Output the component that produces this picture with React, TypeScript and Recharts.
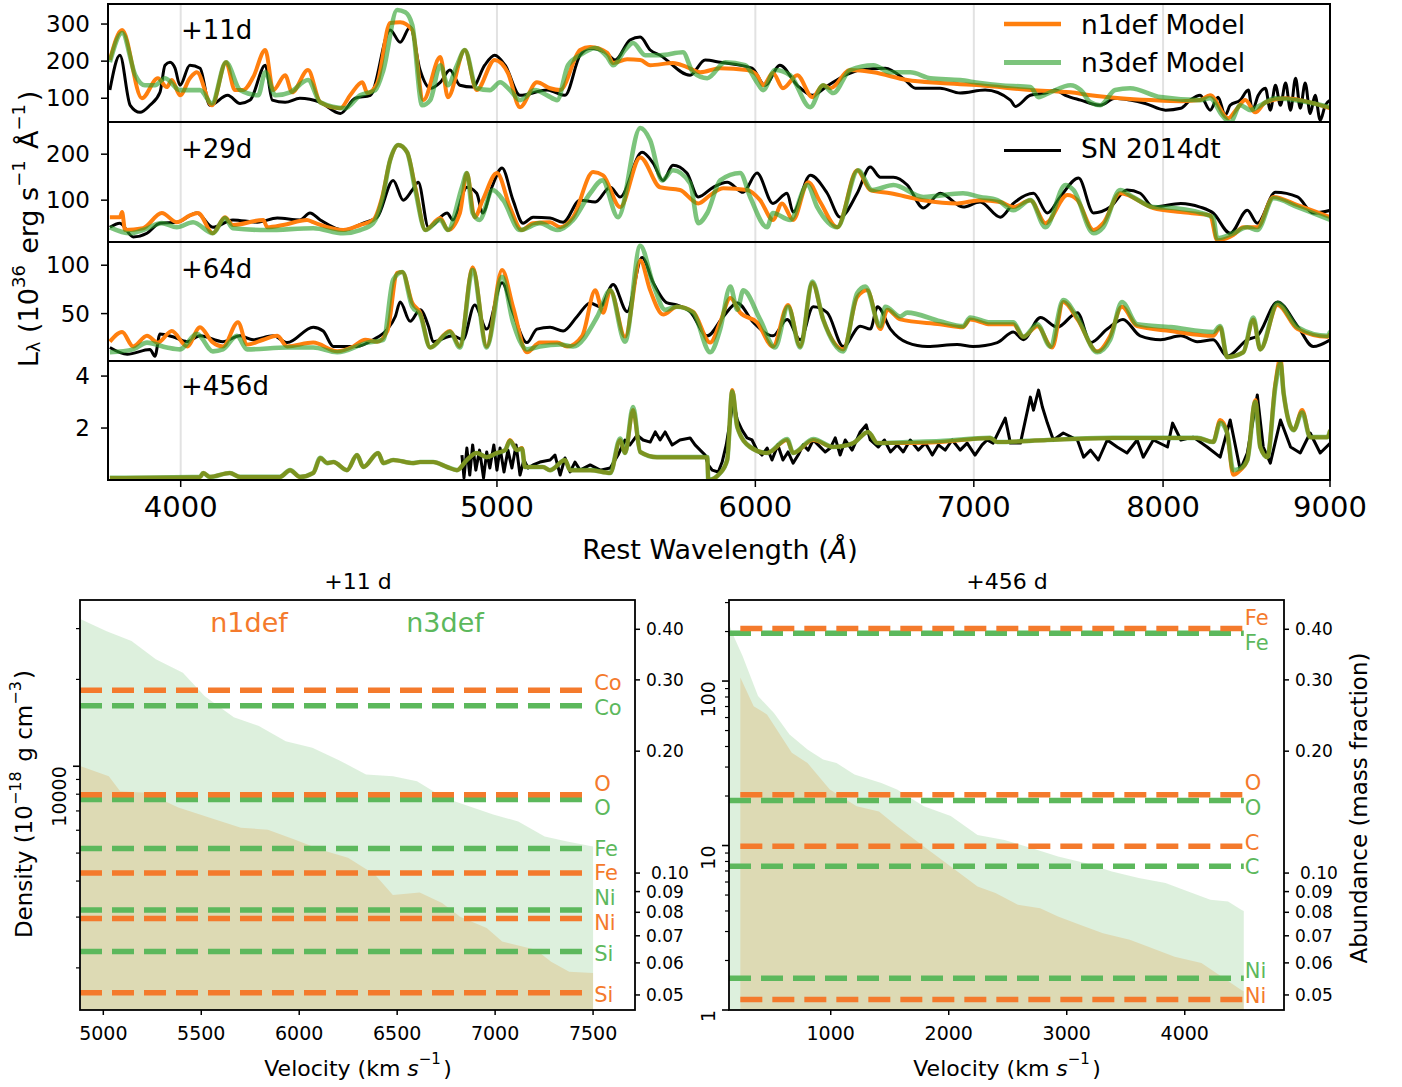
import React from 'react';
import { LineChart, Line, XAxis, YAxis, CartesianGrid, ComposedChart, Area } from 'recharts';

type Pair = [number, number];

// ---------------- top: spectra ----------------
const WAVE_TICKS = [4000, 5000, 6000, 7000, 8000, 9000];
const WAVE_GRID = [4000, 5000, 6000, 7000, 8000];
const WAVE_DOMAIN: [number, number] = [3800, 9000];

const P1_OBS: Pair[] = [[3805,122],[3832,216],[3860,81],[3887,62],[3914,81],[3942,116],[3956,189],[3970,197],[3984,181],[3998,135],[4026,189],[4055,181],[4083,81],[4135,108],[4171,86],[4201,95],[4246,189],[4267,95],[4306,89],[4351,100],[4414,89],[4477,59],[4524,100],[4573,108],[4637,284],[4670,251],[4703,292],[4736,176],[4770,127],[4804,143],[4837,176],[4871,135],[4915,130],[4957,189],[4992,216],[5029,189],[5082,108],[5180,122],[5209,116],[5246,108],[5302,216],[5340,235],[5397,224],[5435,203],[5492,257],[5532,265],[5571,230],[5610,216],[5730,162],[5791,203],[5853,197],[5986,181],[6041,135],[6105,189],[6180,135],[6246,108],[6317,135],[6393,162],[6461,176],[6576,181],[6669,149],[6717,127],[6836,127],[6933,114],[7056,122],[7183,95],[7208,78],[7285,108],[7363,114],[7414,122],[7467,108],[7548,95],[7653,81],[7734,100],[7816,95],[7900,86],[8014,68],[8101,73],[8155,95],[8212,108],[8270,68],[8317,103],[8358,54],[8388,81],[8448,95],[8496,122],[8520,68],[8556,108],[8599,127],[8629,68],[8660,135],[8691,81],[8722,141],[8753,68],[8784,154],[8813,73],[8844,141],[8875,59],[8906,108],[8938,41],[8970,81],[9002,95]];
const P1_N1: Pair[] = [[3805,203],[3838,284],[3892,100],[3936,154],[3961,130],[3975,149],[3998,108],[4026,154],[4046,170],[4089,81],[4130,197],[4156,122],[4180,122],[4210,157],[4246,230],[4270,122],[4306,162],[4327,116],[4376,176],[4414,89],[4477,73],[4508,108],[4547,143],[4563,114],[4595,141],[4637,303],[4670,305],[4710,284],[4747,95],[4804,211],[4830,103],[4888,230],[4929,122],[4992,203],[5039,168],[5082,76],[5143,143],[5191,127],[5228,122],[5302,230],[5340,238],[5405,222],[5427,195],[5481,205],[5532,203],[5571,189],[5661,195],[5717,184],[5771,170],[5853,181],[5965,176],[6007,162],[6033,135],[6075,168],[6118,127],[6180,162],[6246,103],[6294,135],[6326,127],[6415,176],[6521,170],[6679,149],[6836,141],[7031,135],[7285,122],[7494,116],[7601,108],[7761,100],[7928,95],[8101,92],[8212,95],[8270,108],[8376,46],[8430,73],[8478,95],[8538,62],[8599,89],[8722,100],[8813,95],[9002,73]];
const P1_N3: Pair[] = [[3805,197],[3838,276],[3874,162],[3900,135],[3928,135],[3956,154],[3998,122],[4055,122],[4089,86],[4130,197],[4171,122],[4225,108],[4246,170],[4276,108],[4321,116],[4376,149],[4414,89],[4492,73],[4540,108],[4589,122],[4615,176],[4660,338],[4687,332],[4710,297],[4743,81],[4770,95],[4804,189],[4830,135],[4861,189],[4888,230],[4929,127],[4975,122],[5011,143],[5046,122],[5082,95],[5136,122],[5180,108],[5217,95],[5257,189],[5302,216],[5359,235],[5405,211],[5427,189],[5473,230],[5504,249],[5551,216],[5610,216],[5701,224],[5742,170],[5800,154],[5874,197],[5957,189],[6007,143],[6033,122],[6084,176],[6149,162],[6237,76],[6294,135],[6339,114],[6415,176],[6521,189],[6600,170],[6693,170],[6789,154],[6933,149],[7031,141],[7132,135],[7285,130],[7327,103],[7388,116],[7494,135],[7548,122],[7601,89],[7653,81],[7734,122],[7816,127],[7986,103],[8212,95],[8270,100],[8340,54],[8388,35],[8448,81],[8508,68],[8568,81],[8660,100],[8784,95],[9002,76]];

const P2_OBS: Pair[] = [[3805,41],[3832,50],[3868,20],[3906,28],[3942,50],[3989,52],[4046,72],[4092,41],[4150,57],[4222,52],[4282,61],[4351,57],[4382,72],[4414,57],[4486,35],[4550,50],[4595,63],[4647,143],[4680,100],[4710,122],[4730,139],[4764,41],[4827,72],[4847,57],[4895,128],[4929,115],[4950,72],[4982,128],[5018,170],[5057,100],[5093,50],[5129,63],[5191,61],[5239,52],[5302,100],[5359,96],[5416,128],[5454,107],[5539,204],[5583,180],[5622,143],[5661,176],[5717,159],[5763,107],[5824,128],[5882,139],[5949,117],[6007,159],[6075,93],[6136,115],[6162,74],[6237,154],[6312,115],[6370,63],[6447,115],[6507,172],[6553,150],[6614,150],[6679,133],[6755,83],[6836,115],[6947,85],[7031,96],[7132,63],[7198,93],[7301,115],[7373,72],[7440,107],[7537,148],[7617,72],[7707,85],[7799,122],[7872,115],[7945,85],[8101,93],[8212,85],[8288,72],[8388,28],[8490,78],[8550,50],[8660,117],[8796,107],[8894,72],[9002,78]];
const P2_N1: Pair[] = [[3805,63],[3832,63],[3838,74],[3846,35],[3895,39],[3947,72],[3989,52],[4026,67],[4049,72],[4092,28],[4127,63],[4150,46],[4240,57],[4252,41],[4300,46],[4373,57],[4392,52],[4486,35],[4540,46],[4582,57],[4611,107],[4637,187],[4664,220],[4693,204],[4720,128],[4754,35],[4804,61],[4830,35],[4871,72],[4895,159],[4922,63],[4950,100],[5000,159],[5046,85],[5089,35],[5129,50],[5191,52],[5228,41],[5276,63],[5351,161],[5389,154],[5454,85],[5532,193],[5610,128],[5689,122],[5763,93],[5812,111],[5866,126],[5965,122],[6020,100],[6075,57],[6114,93],[6162,57],[6228,139],[6281,96],[6357,41],[6447,165],[6507,122],[6600,115],[6755,100],[6918,93],[7031,100],[7132,96],[7198,85],[7285,100],[7363,50],[7478,111],[7531,100],[7617,35],[7669,50],[7761,115],[7945,83],[8101,74],[8270,67],[8311,13],[8406,24],[8466,41],[8550,41],[8648,107],[8796,89],[9002,63]];
const P2_N3: Pair[] = [[3805,41],[3860,28],[3895,35],[3947,50],[3989,41],[4035,52],[4092,28],[4127,61],[4150,39],[4252,35],[4392,39],[4486,28],[4540,35],[4582,50],[4611,100],[4637,187],[4664,220],[4693,204],[4720,122],[4754,35],[4804,57],[4830,35],[4878,128],[4895,159],[4915,72],[4939,57],[4985,122],[5022,100],[5082,35],[5154,50],[5217,35],[5276,57],[5340,115],[5386,143],[5446,63],[5532,257],[5571,230],[5618,143],[5661,165],[5730,137],[5763,50],[5800,72],[5853,143],[5936,159],[5978,107],[6050,41],[6075,72],[6149,57],[6224,133],[6268,85],[6357,41],[6451,165],[6516,122],[6614,133],[6755,107],[6947,115],[7031,107],[7117,100],[7198,78],[7285,100],[7363,41],[7467,133],[7510,122],[7617,28],[7669,41],[7761,122],[7832,107],[7945,85],[8060,83],[8288,63],[8311,17],[8406,28],[8490,41],[8550,35],[8648,104],[8796,85],[9002,57]];

const P3_OBS: Pair[] = [[3805,15],[3852,8],[3914,13],[3928,6],[3942,29],[3978,26],[4018,21],[4055,27],[4121,21],[4171,27],[4210,23],[4270,27],[4312,20],[4392,36],[4423,32],[4455,16],[4530,16],[4582,23],[4628,34],[4654,47],[4670,62],[4703,42],[4736,54],[4764,37],[4780,21],[4847,27],[4881,23],[4922,59],[4964,34],[5018,82],[5057,51],[5107,20],[5143,34],[5191,36],[5239,32],[5291,47],[5340,61],[5378,57],[5427,80],[5481,52],[5539,108],[5583,82],[5638,61],[5677,59],[5730,52],[5800,27],[5866,47],[5924,61],[5991,41],[6075,27],[6136,44],[6193,23],[6250,57],[6312,51],[6384,16],[6461,37],[6507,34],[6540,57],[6600,34],[6679,20],[6774,16],[6918,18],[6996,16],[7117,20],[7198,31],[7249,23],[7337,46],[7425,36],[7531,51],[7601,20],[7691,34],[7777,44],[7872,27],[7986,23],[8101,27],[8195,21],[8288,23],[8370,6],[8490,23],[8550,27],[8673,62],[8796,37],[8894,16],[9002,23]];
const P3_N1: Pair[] = [[3805,21],[3838,31],[3868,16],[3906,27],[3936,20],[3975,32],[4018,16],[4055,36],[4089,21],[4121,16],[4165,41],[4192,18],[4240,23],[4282,27],[4312,16],[4392,20],[4467,11],[4518,16],[4556,23],[4595,21],[4628,32],[4660,92],[4677,93],[4710,61],[4736,51],[4770,15],[4837,32],[4871,16],[4915,98],[4964,16],[5018,95],[5057,57],[5107,10],[5154,20],[5217,20],[5254,16],[5310,27],[5359,74],[5389,51],[5416,74],[5473,26],[5532,105],[5571,74],[5622,49],[5677,57],[5742,52],[5812,20],[5853,41],[5895,66],[5936,51],[6007,41],[6075,16],[6140,59],[6193,16],[6246,82],[6294,44],[6384,13],[6447,67],[6493,74],[6553,34],[6586,54],[6646,44],[6836,39],[6947,36],[6982,44],[7081,39],[7198,39],[7249,26],[7321,37],[7398,15],[7456,62],[7531,44],[7637,11],[7707,27],[7771,57],[7855,37],[8043,32],[8288,27],[8329,36],[8370,5],[8466,10],[8526,44],[8568,13],[8673,59],[8796,34],[8983,26],[9002,29]];
const P3_N3: Pair[] = [[3805,10],[3868,13],[3906,20],[3961,15],[3998,13],[4046,29],[4092,11],[4121,13],[4162,27],[4192,13],[4312,15],[4392,15],[4467,10],[4563,20],[4615,23],[4647,85],[4677,93],[4710,57],[4736,49],[4770,15],[4837,31],[4871,15],[4915,95],[4964,15],[5018,88],[5057,41],[5107,13],[5154,16],[5228,18],[5276,16],[5367,47],[5416,74],[5473,21],[5532,120],[5583,80],[5630,54],[5677,57],[5742,51],[5812,10],[5853,34],[5895,78],[5924,54],[5949,74],[6020,44],[6084,15],[6140,57],[6193,15],[6246,83],[6294,44],[6384,11],[6447,71],[6484,78],[6553,37],[6576,57],[6646,47],[6679,51],[6836,42],[6947,37],[6982,46],[7081,41],[7198,41],[7249,26],[7321,39],[7388,16],[7456,64],[7531,46],[7637,10],[7707,23],[7771,62],[7855,39],[8043,36],[8288,31],[8329,37],[8370,5],[8466,10],[8526,46],[8568,13],[8673,61],[8796,36],[8983,27],[9002,32]];

const P4_OBS: Pair[] = [[4878,0.96],[4885,0.08],[4895,1.23],[4905,0.19],[4915,1.35],[4926,0.38],[4939,1.15],[4953,0.08],[4964,1.08],[4975,0.46],[4989,1.35],[5000,0.38],[5011,1.23],[5025,0.31],[5039,1.15],[5053,0.46],[5068,1.35],[5082,0.19],[5096,0.77],[5111,0.46],[5129,0.58],[5154,0.69],[5191,0.77],[5209,0.96],[5228,0.19],[5246,0.85],[5265,0.31],[5283,0.69],[5302,0.38],[5340,0.58],[5378,0.38],[5416,0.46],[5446,0.96],[5473,1.54],[5492,1.35],[5520,1.73],[5543,1.54],[5571,1.46],[5591,1.85],[5610,1.54],[5630,1.85],[5658,1.35],[5689,1.54],[5730,1.62],[5750,1.35],[5771,1.15],[5791,0.96],[5804,0.58],[5820,0.38],[5845,0.31],[5861,0.69],[5878,1.35],[5895,2.31],[5907,3.08],[5924,2.31],[5944,1.92],[5965,1.62],[5986,1.54],[6007,1.15],[6028,0.96],[6050,1.23],[6071,0.77],[6096,1.35],[6118,0.77],[6140,1.08],[6162,0.65],[6184,0.96],[6206,1.35],[6228,1.15],[6250,1.54],[6272,1.35],[6303,1.08],[6326,1.23],[6348,1.62],[6370,0.96],[6393,1.54],[6424,1.15],[6461,1.85],[6488,2.12],[6507,1.54],[6544,1.27],[6572,1.54],[6600,1.08],[6632,1.35],[6660,1.08],[6693,1.54],[6731,1.15],[6765,1.42],[6798,0.96],[6827,1.35],[6860,1.15],[6894,1.54],[6933,1.15],[6967,1.42],[7006,0.96],[7041,1.35],[7066,1.54],[7096,1.42],[7157,2.38],[7183,1.42],[7234,1.42],[7285,3.19],[7301,2.69],[7327,3.46],[7347,2.81],[7373,2.19],[7404,1.54],[7456,1.81],[7531,1.54],[7564,0.88],[7601,1.15],[7643,0.77],[7691,1.54],[7745,1.27],[7799,1.04],[7855,1.54],[7889,0.88],[7945,1.54],[8025,1.27],[8054,2.19],[8101,1.54],[8172,1.65],[8253,1.27],[8329,0.88],[8388,2.31],[8448,0.38],[8490,1.04],[8550,3.27],[8586,1.27],[8629,0.65],[8691,2.31],[8753,1.27],[8813,1.04],[8875,1.81],[8938,1.04],[9002,1.42]];
const P4_N1: Pair[] = [[3805,0.08],[4055,0.12],[4064,0.27],[4083,0.12],[4141,0.27],[4171,0.12],[4290,0.12],[4321,0.38],[4351,0.12],[4392,0.27],[4414,0.85],[4436,0.65],[4455,0.69],[4498,0.38],[4530,0.96],[4550,0.5],[4598,1.04],[4615,0.65],[4647,0.77],[4713,0.65],[4736,0.69],[4780,0.69],[4827,0.5],[4861,0.38],[4895,0.77],[4929,1.04],[4964,0.88],[5000,1.04],[5029,1.15],[5046,1.54],[5071,1.15],[5089,1.23],[5100,0.5],[5165,0.5],[5191,0.38],[5246,0.77],[5265,0.38],[5340,0.38],[5416,0.27],[5454,1.54],[5473,1.04],[5504,2.69],[5532,1.08],[5598,0.88],[5800,0.88],[5804,0],[5853,0.27],[5882,0.77],[5903,3.46],[5924,2.04],[5978,1.27],[6050,1.04],[6136,1.54],[6162,1.04],[6250,1.54],[6339,1.27],[6429,1.42],[6497,1.85],[6540,1.42],[6679,1.42],[6836,1.46],[7081,1.62],[7117,1.46],[7373,1.54],[7723,1.62],[8195,1.62],[8288,1.46],[8329,2.31],[8370,1.81],[8406,0.2],[8448,0.38],[8490,0.77],[8538,3.08],[8568,1.27],[8611,0.88],[8660,3.73],[8691,4.7],[8710,3.35],[8772,1.92],[8825,2.69],[8875,1.65],[8983,1.65],[9002,1.92]];
const P4_N3: Pair[] = [[3805,0.08],[4055,0.12],[4064,0.27],[4083,0.12],[4141,0.27],[4171,0.12],[4290,0.12],[4321,0.38],[4351,0.12],[4392,0.27],[4414,0.85],[4436,0.65],[4455,0.69],[4498,0.38],[4530,0.96],[4550,0.5],[4598,1.04],[4615,0.65],[4647,0.77],[4713,0.65],[4736,0.69],[4780,0.69],[4827,0.5],[4861,0.38],[4895,0.77],[4929,1.04],[4964,0.88],[5000,1.04],[5029,1.15],[5046,1.5],[5071,1.15],[5089,1.2],[5100,0.5],[5165,0.5],[5191,0.38],[5246,0.77],[5265,0.38],[5340,0.38],[5416,0.27],[5454,1.6],[5473,1.04],[5504,2.81],[5532,1.08],[5598,0.88],[5800,0.88],[5804,0],[5853,0.27],[5882,0.77],[5903,3.4],[5924,2.04],[5978,1.27],[6050,1.04],[6136,1.58],[6162,1.04],[6250,1.58],[6339,1.27],[6429,1.42],[6497,1.85],[6540,1.42],[6679,1.46],[6836,1.5],[7081,1.62],[7117,1.46],[7373,1.54],[7723,1.62],[8195,1.62],[8288,1.46],[8329,2.2],[8370,1.81],[8406,0.38],[8448,0.45],[8490,0.77],[8538,3.0],[8568,1.27],[8611,0.88],[8660,3.6],[8691,4.5],[8710,3.35],[8772,1.92],[8825,2.6],[8875,1.65],[8983,1.65],[9002,1.92]];

const EPOCH_LABELS = ['+11d', '+29d', '+64d', '+456d'];
const P_DOMAINS: [number, number][] = [[36, 354], [9, 270], [1, 124], [0, 4.58]];
const P_TICKS = [[100, 200, 300], [100, 200], [50, 100], [2, 4]];
const P_SERIES = [[P1_OBS, P1_N1, P1_N3], [P2_OBS, P2_N1, P2_N3], [P3_OBS, P3_N1, P3_N3], [P4_OBS, P4_N1, P4_N3]];

// ---------------- bottom: density & abundance ----------------
const L_VEL_TICKS = [5000, 5500, 6000, 6500, 7000, 7500];
const L_N1_DENS: Pair[] = [[4885,10000],[5028,9230],[5086,8190],[5222,8100],[5383,7190],[5544,6630],[5702,6120],[5840,6030],[5976,5570],[6111,5140],[6249,4820],[6387,4210],[6478,3580],[6615,3650],[6729,3360],[6821,3010],[6957,2750],[7036,2470],[7208,2310],[7286,2100],[7378,1940],[7500,1920]];
const L_N3_DENS: Pair[] = [[4885,32300],[5017,29400],[5144,27200],[5268,23500],[5406,21100],[5518,17500],[5666,14800],[5794,13800],[5931,12200],[6067,11600],[6203,10500],[6341,9360],[6479,9230],[6601,8870],[6739,7780],[6867,7260],[6990,6800],[7118,6440],[7253,5710],[7368,5490],[7500,5270]];
const L_ELEMENTS_N1 = ['Co', 'O', 'Fe', 'Ni', 'Si'];
const L_ABUND_N1 = [0.283, 0.156, 0.1, 0.0772, 0.0506];
const L_ELEMENTS_N3 = ['Co', 'O', 'Fe', 'Ni', 'Si'];
const L_ABUND_N3 = [0.259, 0.152, 0.115, 0.0811, 0.064];
const L_VRANGE_N1 = [4881, 7480];
const L_VRANGE_N3 = [4881, 7480];
const L_DENS_TICKS = [2000, 3000, 4000, 5000, 6000, 7000, 8000, 9000, 10000, 20000, 30000];
const L_DENS_MAJOR = [10000];

const R_VEL_TICKS = [1000, 2000, 3000, 4000];
const R_N1_DENS: Pair[] = [[234,105],[347,70.3],[460,62.7],[670,36.6],[803,31.8],[992,21.9],[1220,17.3],[1409,16.1],[1562,13.1],[1789,9.88],[2017,7.46],[2244,5.64],[2396,5.14],[2586,4.36],[2775,4.16],[2926,3.7],[3117,3.29],[3307,2.93],[3534,2.67],[3686,2.43],[3914,2.11],[4141,1.93],[4292,1.63],[4482,1.32],[4500,1.3]];
const R_N3_DENS: Pair[] = [[140,220],[177,188],[253,142],[384,81],[519,64],[651,47.3],[803,38.3],[935,33.3],[1049,31.8],[1201,27],[1429,24],[1562,21.9],[1789,17.3],[2017,15.1],[2244,11.6],[2472,10.8],[2699,9.66],[2926,8.59],[3155,7.82],[3382,6.96],[3610,6.34],[3837,5.91],[3989,5.38],[4217,4.68],[4367,4.57],[4482,4.06],[4500,4.0]];
const R_ELEMENTS_N1 = ['Fe', 'O', 'C', 'Ni'];
const R_ABUND_N1 = [0.402, 0.156, 0.1165, 0.0487];
const R_ELEMENTS_N3 = ['Fe', 'O', 'C', 'Ni'];
const R_ABUND_N3 = [0.391, 0.151, 0.104, 0.055];
const R_VRANGE_N1 = [234, 4500];
const R_VRANGE_N3 = [138, 4500];
const R_DENS_TICKS = [1, 2, 3, 4, 5, 6, 7, 8, 9, 10, 20, 30, 40, 50, 60, 70, 80, 90, 100, 200, 300];
const R_DENS_MAJOR = [1, 10, 100];

const AB_TICKS = [0.05, 0.06, 0.07, 0.08, 0.09, 0.1, 0.2, 0.3, 0.4];

// ---------------- layout / styles ----------------
const W = 1402;
const H = 1087;
const FONT = "'DejaVu Sans', sans-serif";
const X0 = 108;
const X1 = 1330;
const PANEL_EDGES = [4, 122, 242, 361, 480];
const C_ORANGE = '#ff7f0e';
const C_GREEN = '#2ca02c';
const C_ORANGE_B = '#f47a2c';
const C_GREEN_B = '#5cb85c';
const EL_FONT = 21;
const AB_FONT = 17;

const L_LABEL_DY_N1 = [-7, -11, 0, 4, 2];
const L_LABEL_DY_N3 = [2, 9, 1, -12, 2];
const R_LABEL_DY_N1 = [-10, -12, -3, -4];
const R_LABEL_DY_N3 = [10, 7, 1, -7];

const toPts = (a: Pair[]) => a.map(([w, v]) => ({ w, v }));
const toDens = (a: Pair[]) => a.map(([v, d]) => ({ v, d }));

function SpectrumPanel({ idx }: { idx: number }) {
  const last = idx === 3;
  const top = PANEL_EDGES[idx];
  const h = PANEL_EDGES[idx + 1] - top;
  const [obs, n1, n3] = P_SERIES[idx];
  const obsType = idx === 3 ? 'linear' : 'monotone';
  return (
    <div style={{ position: 'absolute', left: 0, top }}>
      <LineChart width={W} height={h + (last ? 70 : 0)} margin={{ top: 0, right: W - X1, bottom: 0, left: 0 }}>
        <CartesianGrid horizontal={false} verticalValues={WAVE_GRID} stroke="#e2e2e2" strokeWidth={2} />
        <XAxis
          type="number"
          dataKey="w"
          scale="log"
          domain={WAVE_DOMAIN}
          allowDataOverflow
          ticks={WAVE_TICKS}
          interval={0}
          hide={!last}
          height={70}
          tickSize={7}
          tickMargin={9}
          axisLine={false}
          tickLine={{ stroke: '#000', strokeWidth: 1.5 }}
          tick={{ fill: '#000', fontSize: 29 }}
        />
        <YAxis
          type="number"
          domain={P_DOMAINS[idx]}
          allowDataOverflow
          ticks={P_TICKS[idx]}
          interval={0}
          width={X0}
          tickSize={7}
          tickMargin={11}
          axisLine={false}
          tickLine={{ stroke: '#000', strokeWidth: 1.5 }}
          tick={{ fill: '#000', fontSize: 23 }}
        />
        <Line data={toPts(obs)} dataKey="v" type={obsType} stroke="#000" strokeWidth={3} dot={false} strokeLinejoin="round" isAnimationActive={false} />
        <Line data={toPts(n1)} dataKey="v" type="monotone" stroke={C_ORANGE} strokeWidth={4} dot={false} strokeLinejoin="round" isAnimationActive={false} />
        <Line data={toPts(n3)} dataKey="v" type="monotone" stroke={C_GREEN} strokeOpacity={0.62} strokeWidth={4.6} dot={false} strokeLinejoin="round" isAnimationActive={false} />
      </LineChart>
    </div>
  );
}

function DensTick(props: any) {
  const { x, y, payload, majors } = props;
  const major = majors.indexOf(payload.value) >= 0;
  const lx = x - 14;
  return (
    <g>
      <line x1={x} x2={x - (major ? 7 : 4)} y1={y} y2={y} stroke="#000" strokeWidth={major ? 1.6 : 1.2} />
      {major && (
        <text x={lx} y={y} transform={`rotate(-90 ${lx} ${y})`} textAnchor="end" fontSize={19} fill="#000">
          {String(payload.value)}
        </text>
      )}
    </g>
  );
}

function AbTick(props: any) {
  const { x, y, payload } = props;
  const v = payload.value as number;
  const shift = v === 0.1 ? 5 : 0;
  return (
    <text x={x + shift} y={y} textAnchor="start" dominantBaseline="central" fontSize={AB_FONT} fill="#000">
      {v.toFixed(2)}
    </text>
  );
}

const endLabel = (text: string, color: string, dx: number, dy: number) => (lp: any) => {
  if (lp.index !== 1) return null;
  const px = lp.x ?? lp.viewBox?.x;
  const py = lp.y ?? lp.viewBox?.y;
  return (
    <text x={px + dx} y={py + dy} fill={color} fontSize={EL_FONT} dominantBaseline="central">
      {text}
    </text>
  );
};

type BottomCfg = {
  left: number;
  leftW: number;
  rightW: number;
  vDomain: [number, number];
  vTicks: number[];
  dDomain: [number, number];
  dTicks: number[];
  dMajor: number[];
  n1: Pair[];
  n3: Pair[];
  el1: string[];
  ab1: number[];
  el3: string[];
  ab3: number[];
  r1: number[];
  r3: number[];
  dy1: number[];
  dy3: number[];
  dx: number;
};

const LEFT_CFG: BottomCfg = {
  left: 0, leftW: 80, rightW: 65,
  vDomain: [4881, 7714], vTicks: L_VEL_TICKS,
  dDomain: [1429, 37700], dTicks: L_DENS_TICKS, dMajor: L_DENS_MAJOR,
  n1: L_N1_DENS, n3: L_N3_DENS,
  el1: L_ELEMENTS_N1, ab1: L_ABUND_N1, el3: L_ELEMENTS_N3, ab3: L_ABUND_N3,
  r1: L_VRANGE_N1, r3: L_VRANGE_N3, dy1: L_LABEL_DY_N1, dy3: L_LABEL_DY_N3, dx: 5,
};
const RIGHT_CFG: BottomCfg = {
  left: 650, leftW: 79, rightW: 66,
  vDomain: [138, 4841], vTicks: R_VEL_TICKS,
  dDomain: [1, 311], dTicks: R_DENS_TICKS, dMajor: R_DENS_MAJOR,
  n1: R_N1_DENS, n3: R_N3_DENS,
  el1: R_ELEMENTS_N1, ab1: R_ABUND_N1, el3: R_ELEMENTS_N3, ab3: R_ABUND_N3,
  r1: R_VRANGE_N1, r3: R_VRANGE_N3, dy1: R_LABEL_DY_N1, dy3: R_LABEL_DY_N3, dx: 1,
};

function AbundancePanel({ cfg }: { cfg: BottomCfg }) {
  const lines: React.ReactNode[] = [];
  cfg.el3.forEach((el, i) => {
    lines.push(
      <Line key={'g' + el} yAxisId="ab" data={[{ v: cfg.r3[0], a: cfg.ab3[i] }, { v: cfg.r3[1], a: cfg.ab3[i] }]} dataKey="a" type="linear"
        stroke={C_GREEN_B} strokeWidth={5.5} strokeDasharray="22 10" dot={false} isAnimationActive={false}
        label={endLabel(el, C_GREEN_B, cfg.dx, cfg.dy3[i])} />
    );
  });
  cfg.el1.forEach((el, i) => {
    lines.push(
      <Line key={'o' + el} yAxisId="ab" data={[{ v: cfg.r1[0], a: cfg.ab1[i] }, { v: cfg.r1[1], a: cfg.ab1[i] }]} dataKey="a" type="linear"
        stroke={C_ORANGE_B} strokeWidth={5.5} strokeDasharray="22 10" dot={false} isAnimationActive={false}
        label={endLabel(el, C_ORANGE_B, cfg.dx, cfg.dy1[i])} />
    );
  });
  return (
    <div style={{ position: 'absolute', left: cfg.left, top: 600 }}>
      <ComposedChart width={700} height={460} margin={{ top: 0, right: 0, bottom: 0, left: 0 }}>
        <XAxis type="number" dataKey="v" domain={cfg.vDomain} allowDataOverflow ticks={cfg.vTicks} interval={0}
          height={50} tickSize={5} tickMargin={12} axisLine={false}
          tickLine={{ stroke: '#000', strokeWidth: 1.5 }} tick={{ fill: '#000', fontSize: 19 }} />
        <YAxis yAxisId="dens" type="number" scale="log" domain={cfg.dDomain} allowDataOverflow ticks={cfg.dTicks} interval={0}
          width={cfg.leftW} tickSize={0} tickMargin={0} axisLine={false} tickLine={false}
          tick={(tp: any) => <DensTick {...tp} majors={cfg.dMajor} />} />
        <YAxis yAxisId="ab" orientation="right" type="number" scale="log" domain={[0.0459, 0.4725]} allowDataOverflow
          ticks={AB_TICKS} interval={0} width={cfg.rightW} tickSize={5} tickMargin={6} axisLine={false}
          tickLine={{ stroke: '#000', strokeWidth: 1.5 }}
          tick={(tp: any) => <AbTick {...tp} />} />
        <Area yAxisId="dens" data={toDens(cfg.n1)} dataKey="d" type="linear" stroke="none" fill={C_ORANGE} fillOpacity={0.2}
          baseValue={cfg.dDomain[0]} isAnimationActive={false} />
        <Area yAxisId="dens" data={toDens(cfg.n3)} dataKey="d" type="linear" stroke="none" fill={C_GREEN} fillOpacity={0.16}
          baseValue={cfg.dDomain[0]} isAnimationActive={false} />
        {lines}
      </ComposedChart>
    </div>
  );
}

function Sup({ children, size, up }: { children: React.ReactNode; size: number; up: number }) {
  return (
    <>
      <tspan fontSize={size} dy={-up}>{children}</tspan>
      <tspan dy={up}>{'\u200A'}</tspan>
    </>
  );
}

function Overlay() {
  return (
    <svg width={W} height={H} style={{ position: 'absolute', left: 0, top: 0, pointerEvents: 'none' }} fontFamily={FONT}>
      {PANEL_EDGES.slice(0, 4).map((t, i) => (
        <rect key={i} x={X0} y={t} width={X1 - X0} height={PANEL_EDGES[i + 1] - t} fill="none" stroke="#000" strokeWidth={2} />
      ))}
      <rect x={80} y={600} width={555} height={410} fill="none" stroke="#000" strokeWidth={1.8} />
      <rect x={729} y={600} width={555} height={410} fill="none" stroke="#000" strokeWidth={1.8} />

      {EPOCH_LABELS.map((s, i) => (
        <text key={s} x={181} y={[30, 148.5, 269, 386][i]} fontSize={26} dominantBaseline="central" fill="#000">{s}</text>
      ))}

      <line x1={1004} x2={1061} y1={24} y2={24} stroke={C_ORANGE} strokeWidth={4.5} />
      <text x={1081} y={24} fontSize={26.5} dominantBaseline="central">n1def Model</text>
      <line x1={1004} x2={1061} y1={62.5} y2={62.5} stroke={C_GREEN} strokeOpacity={0.62} strokeWidth={5} />
      <text x={1081} y={62.5} fontSize={26.5} dominantBaseline="central">n3def Model</text>
      <line x1={1004} x2={1061} y1={150.5} y2={150.5} stroke="#000" strokeWidth={3} />
      <text x={1081} y={148.5} fontSize={26.5} dominantBaseline="central">SN 2014dt</text>

      <text x={720} y={549} fontSize={27} textAnchor="middle" dominantBaseline="central">Rest Wavelength (<tspan fontStyle="italic">Å</tspan>)</text>
      <text x={28} y={229} fontSize={27} textAnchor="middle" dominantBaseline="central" transform="rotate(-90 28 229)">
        L<tspan fontSize={18} dy={5}>λ</tspan><tspan dy={-5}> (10</tspan><Sup size={18} up={10}>36</Sup> erg s<Sup size={18} up={10}>−1</Sup> Å<Sup size={18} up={10}>−1</Sup>)
      </text>

      <text x={358} y={581} fontSize={22} textAnchor="middle" dominantBaseline="central">+11 d</text>
      <text x={1007} y={581} fontSize={22} textAnchor="middle" dominantBaseline="central">+456 d</text>
      <text x={249} y={622} fontSize={27} textAnchor="middle" dominantBaseline="central" fill={C_ORANGE_B}>n1def</text>
      <text x={445} y={622} fontSize={27} textAnchor="middle" dominantBaseline="central" fill={C_GREEN_B}>n3def</text>
      <text x={358} y={1068} fontSize={22} textAnchor="middle" dominantBaseline="central">
        Velocity (km <tspan fontStyle="italic">s</tspan><Sup size={15} up={9}>−1</Sup>)
      </text>
      <text x={1007} y={1068} fontSize={22} textAnchor="middle" dominantBaseline="central">
        Velocity (km <tspan fontStyle="italic">s</tspan><Sup size={15} up={9}>−1</Sup>)
      </text>
      <text x={24} y={804} fontSize={23} textAnchor="middle" dominantBaseline="central" transform="rotate(-90 24 804)">
        Density (10<Sup size={16} up={9}>−18</Sup> g cm<Sup size={16} up={9}>−3</Sup>)
      </text>
      <text x={1359} y={808} fontSize={23} textAnchor="middle" dominantBaseline="central" transform="rotate(-90 1359 808)">
        Abundance (mass fraction)
      </text>
    </svg>
  );
}

export default function App() {
  return (
    <div style={{ position: 'absolute', left: 0, top: 0, width: W, height: H, background: '#fff', overflow: 'hidden', fontFamily: FONT }}>
      {[0, 1, 2, 3].map((i) => (
        <SpectrumPanel key={i} idx={i} />
      ))}
      <AbundancePanel cfg={LEFT_CFG} />
      <AbundancePanel cfg={RIGHT_CFG} />
      <Overlay />
    </div>
  );
}
